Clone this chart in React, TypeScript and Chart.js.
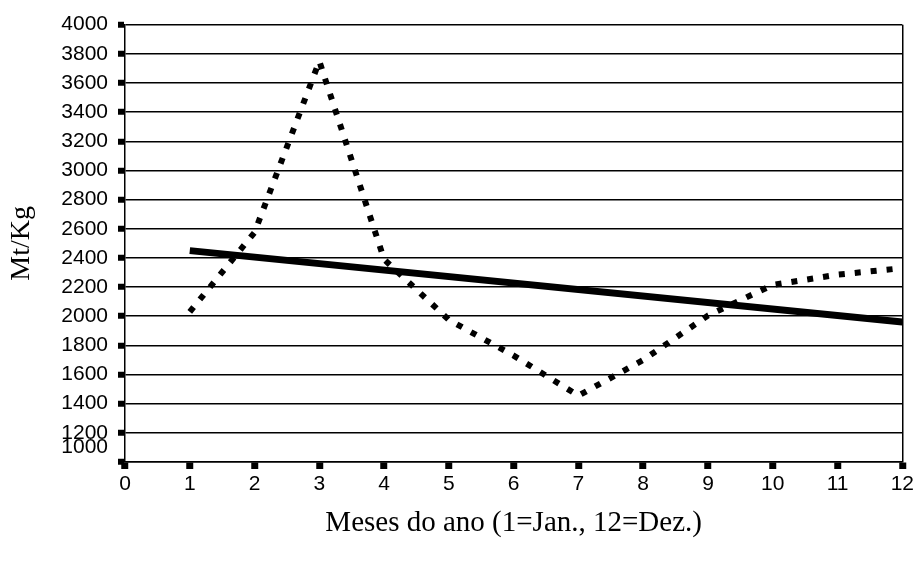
import React, { useEffect, useRef } from "react";
import { Chart, registerables } from "chart.js";

Chart.register(...registerables);

const months = [1, 2, 3, 4, 5, 6, 7, 8, 9, 10, 11, 12];
const observed = [2030, 2575, 3750, 2390, 1975, 1730, 1455, 1700, 2005, 2215, 2285, 2330];
const trendMonths = [1, 12];
const trendValues = [2450, 1960];
const xTitle = "Meses do ano (1=Jan., 12=Dez.)";
const yTitle = "Mt/Kg";
const xMin = 0;
const xMax = 12;
const yMin = 1000;
const yMax = 4000;
const yStep = 200;

export default function App() {
  const ref = useRef<HTMLCanvasElement>(null);
  useEffect(() => {
    document.body.style.margin = "0";
    const canvas = ref.current!;
    const chart = new Chart(canvas, {
      type: "line",
      data: {
        datasets: [
          {
            data: months.map((m, i) => ({ x: m, y: observed[i] })),
            borderColor: "#000",
            borderWidth: 6,
            borderDash: [6, 10],
            borderCapStyle: "butt",
            pointRadius: 0,
            tension: 0,
            fill: false,
          },
          {
            data: trendMonths.map((m, i) => ({ x: m, y: trendValues[i] })),
            borderColor: "#000",
            borderWidth: 7,
            pointRadius: 0,
            tension: 0,
            fill: false,
          },
        ],
      },
      options: {
        responsive: false,
        animation: false,
        events: [],
        layout: { padding: { top: 24, right: 14, left: 0, bottom: 0 } },
        plugins: { legend: { display: false }, tooltip: { enabled: false } },
        scales: {
          x: {
            type: "linear",
            min: xMin,
            max: xMax,
            ticks: {
              stepSize: 1,
              color: "#000",
              font: { family: "Liberation Sans", size: 21 },
              padding: 3,
              maxRotation: 0,
              autoSkip: false,
              callback: (v: any) => String(v),
            },
            grid: {
              drawOnChartArea: true,
              color: (c: any) => (c.tick && c.tick.value === xMax ? "#000" : "rgba(0,0,0,0)"),
              lineWidth: 1.5,
              tickColor: "#000",
              tickLength: 7,
              tickWidth: 7,
            },
            border: { color: "#000", width: 1.5 },
            title: {
              display: true,
              text: xTitle,
              color: "#000",
              font: { family: "Liberation Serif", size: 29 },
              padding: { top: 0, bottom: 30 },
            },
            afterFit: (s: any) => {
              s.height = 109;
            },
          },
          y: {
            type: "linear",
            min: yMin,
            max: yMax,
            ticks: {
              stepSize: yStep,
              color: "#000",
              font: { family: "Liberation Sans", size: 21, lineHeight: 1.4 },
              padding: 10,
              autoSkip: false,
              callback: (v: any) => (v === yMin ? [String(v), ""] : String(v)),
            },
            grid: {
              color: "#000",
              lineWidth: 1.5,
              tickColor: "#000",
              tickLength: 7,
              tickWidth: 6,
            },
            border: { color: "#000", width: 1.5 },
            title: {
              display: true,
              text: yTitle,
              color: "#000",
              font: { family: "Liberation Serif", size: 28 },
              padding: { top: 5, bottom: 0 },
            },
            afterFit: (s: any) => {
              s.width = 125;
            },
          },
        },
      },
    });
    return () => chart.destroy();
  }, []);
  return <canvas ref={ref} width={917} height={571} style={{ display: "block" }} />;
}
